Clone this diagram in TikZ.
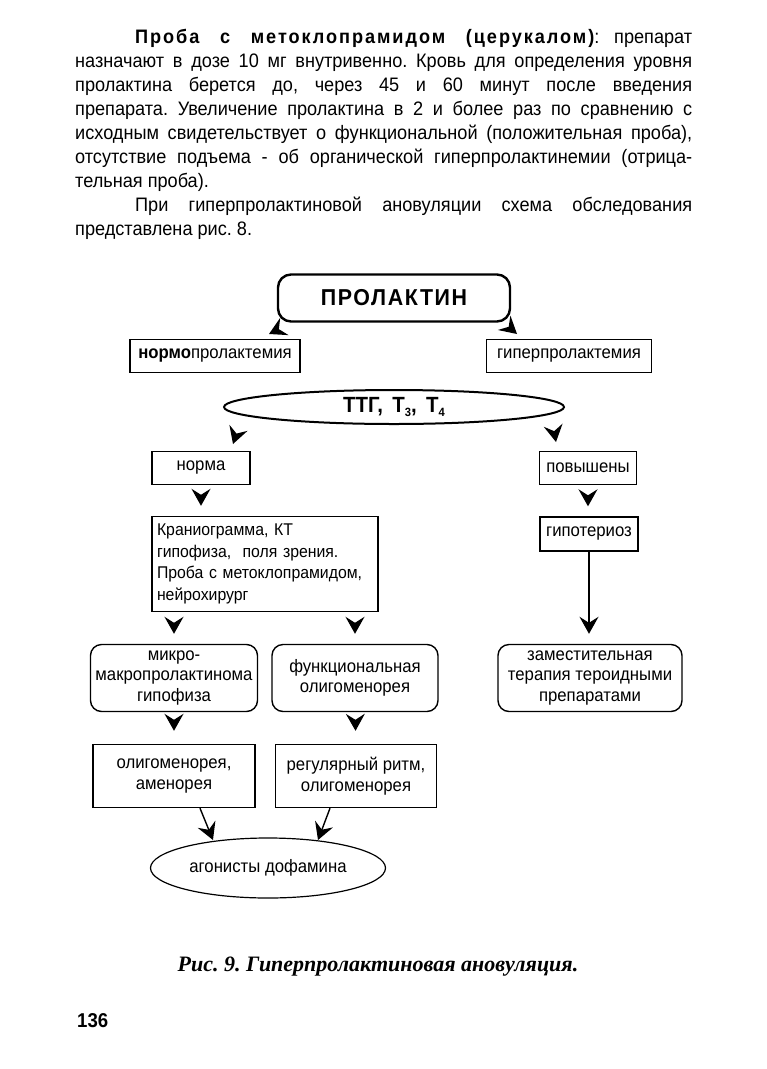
\documentclass[tikz,border=0pt]{standalone}
\usepackage{fontspec}
\setmainfont{Liberation Sans}[FakeStretch=0.93]
\newfontfamily\capfont{Liberation Serif}
\usepackage{tikz}
\usetikzlibrary{arrows.meta,shapes}
\tikzstyle{box}=[draw,line width=1.4pt,inner sep=0pt,align=center,font=\fontsize{18}{21.5}\selectfont]
\tikzstyle{rbox}=[box,rounded corners=11pt,font=\fontsize{18}{20.5}\selectfont]
\tikzstyle{oval}=[draw,ellipse,inner sep=0pt,align=center]
\tikzstyle{arr}=[draw,line width=1.4pt,-{Stealth[length=17pt,width=19pt,inset=6pt]}]
\newcommand\lowidx[1]{\raisebox{-4pt}{\fontsize{12}{12}\selectfont#1}}

\begin{document}
\begin{tikzpicture}[x=1pt,y=-1pt]
      \useasboundingbox (0,0) rectangle (767,1069);
      % text of the page
      \node[anchor=north west,inner sep=0pt,text width=617pt,align=justify,
        font=\fontsize{19.5}{24}\selectfont\frenchspacing] (txt) at (75,29) {%
        \hspace*{60pt}{\bfseries\addfontfeature{LetterSpace=10}Проба с метоклопрамидом (церукалом)}: препарат\linebreak
        назначают в дозе 10 мг внутривенно. Кровь для определения уровня\linebreak
        пролактина берется до, через 45 и 60 минут после введения\linebreak
        препарата. Увеличение пролактина в 2 и более раз по сравнению с\linebreak
        исходным свидетельствует о функциональной (положительная проба),\linebreak
        отсутствие подъема - об органической гиперпролактинемии (отрица-\linebreak
        тельная проба).\par
        \hspace*{60pt}При гиперпролактиновой ановуляции схема обследования\linebreak
        представлена рис. 8.};
      % scheme
      \node[draw,line width=2.4pt,rounded corners=13pt,minimum width=232pt,minimum height=47pt,
        font=\fontsize{23}{23}\selectfont\bfseries\addfontfeature{LetterSpace=7}] (prl) at (394,298) {ПРОЛАКТИН};
      \node[box,minimum width=170pt,minimum height=33pt] (normo) at (215,356) {\textbf{нормо}пролактемия};
      \node[box,minimum width=165pt,minimum height=33pt] (giper) at (569,356) {гиперпролактемия};
      \node[oval,line width=2pt,minimum width=340pt,minimum height=34pt,
        font=\fontsize{22}{22}\selectfont\bfseries] (ttg) at (394,407) {ТТГ,\, Т\lowidx{3},\, Т\lowidx{4}};
      \node[box,minimum width=98pt,minimum height=33pt] (norma) at (201,468) {норма};
      \node[box,minimum width=97pt,minimum height=33pt] (povysh) at (588,468) {повышены};
      \node[box,minimum width=226pt,minimum height=95pt,text width=216pt,align=left,
        font=\fontsize{17}{21.5}\selectfont] (cranio) at (265,564)
        {Краниограмма, КТ\\гипофиза,\ \ поля зрения.\\Проба с метоклопрамидом,\\нейрохирург};
      \node[box,minimum width=98pt,minimum height=34pt] (gipot) at (589,534) {гипотериоз};
      \node[rbox,minimum width=167pt,minimum height=67pt] (mikro) at (174,678) {микро-\\макропролактинома\\гипофиза};
      \node[rbox,minimum width=166pt,minimum height=67pt] (funk) at (355,678) {функциональная\\олигоменорея};
      \node[rbox,minimum width=184pt,minimum height=67pt] (zamest) at (590,678) {заместительная\\терапия тероидными\\препаратами};
      \node[box,minimum width=162pt,minimum height=63pt] (oligo) at (174,776) {олигоменорея,\\аменорея};
      \node[box,minimum width=161pt,minimum height=63pt] (regul) at (356,776) {регулярный ритм,\\олигоменорея};
      \node[oval,line width=1.2pt,minimum width=235pt,minimum height=60pt,
        font=\fontsize{18}{21.5}\selectfont] (agon) at (268,868) {агонисты дофамина};
      % arrow tips
      \coordinate (pl) at (269,334);
      \coordinate (pr) at (517,334);
      \coordinate (tl) at (233,444);
      \coordinate (tr) at (556,442);
      \coordinate (al) at (213,840);
      \coordinate (ar) at (318,840);
      \draw[arr] ([shift={(0.6,7.2)}]prl.south west) -- (pl);
      \draw[arr] ([shift={(-1.2,5.2)}]prl.south east) -- (pr);
      \draw[arr] ([shift={(13.4,26.9)}]ttg.west) -- (tl);
      \draw[arr] ([shift={(-10.8,24.3)}]ttg.east) -- (tr);
      \draw[arr,shorten <=11pt,shorten >=10pt] (norma) -- (norma |- cranio.north);
      \draw[arr,shorten <=11.5pt,shorten >=10pt] (povysh) -- (povysh |- gipot.north);
      \draw[arr,shorten >=10pt] (gipot) -- (gipot |- zamest.north);
      \draw[arr,shorten <=12pt,shorten >=10pt] (mikro |- cranio.south) -- (mikro);
      \draw[arr,shorten <=12pt,shorten >=10pt] (funk |- cranio.south) -- (funk);
      \draw[arr,shorten <=9pt,shorten >=13pt] (mikro) -- (oligo);
      \draw[arr,shorten <=9pt,shorten >=13pt] (funk) -- (regul);
      \draw[arr] ([xshift=26pt]oligo.south) -- (al);
      \draw[arr] ([xshift=-26pt]regul.south) -- (ar);
      % caption and page number
      \node[font=\fontsize{22}{22}\selectfont\capfont\bfseries\itshape] (cap) at (378,967)
        {Рис.~9.\ Гиперпролактиновая\ ановуляция.};
      \node[anchor=west,inner sep=0pt,font=\fontsize{20}{20}\selectfont\bfseries] (pg) at (77,1021) {136};
\end{tikzpicture}
\end{document}
